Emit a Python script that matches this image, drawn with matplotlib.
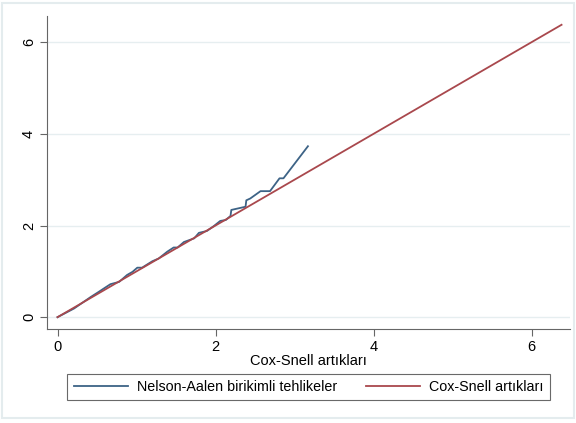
import numpy as np
import matplotlib.pyplot as plt
from matplotlib.patches import Rectangle

plt.rcParams['font.family'] = ['Liberation Sans', 'DejaVu Sans']

# Nelson-Aalen cumulative hazard vs Cox-Snell residuals
na_x = [0.00, 0.21, 0.42, 0.52, 0.59, 0.67, 0.78, 0.88, 0.95, 1.01, 1.07, 1.20,
        1.28, 1.39, 1.47, 1.52, 1.60, 1.73, 1.79, 1.89, 1.98, 2.06, 2.13, 2.19,
        2.20, 2.38, 2.39, 2.44, 2.57, 2.69, 2.81, 2.86, 3.17]
na_y = [0.00, 0.19, 0.44, 0.55, 0.63, 0.72, 0.77, 0.92, 0.99, 1.08, 1.08, 1.22,
        1.28, 1.43, 1.52, 1.52, 1.64, 1.72, 1.84, 1.88, 1.99, 2.10, 2.12, 2.21,
        2.34, 2.41, 2.55, 2.59, 2.75, 2.75, 3.03, 3.03, 3.73]
ref_x = [0.0, 6.38]
ref_y = [0.0, 6.38]

blue = '#3d6386'
red = '#a9484d'

fig = plt.figure(figsize=(5.76, 4.23), dpi=100)
fig.patches.append(Rectangle((0.004, 0.012), 0.992, 0.98, transform=fig.transFigure,
                             fill=False, edgecolor='#e4ecee', linewidth=1.5))

ax = fig.add_axes([0.082, 0.222, 0.908, 0.74])
ax.plot(na_x, na_y, color=blue, lw=1.3, label='Nelson-Aalen birikimli tehlikeler')
ax.plot(ref_x, ref_y, color=red, lw=1.3, label='Cox-Snell artıkları')

ax.set_xlim(-0.13, 6.49)
ax.set_ylim(-0.26, 6.57)
ax.set_xticks([0, 2, 4, 6])
ax.set_yticks([0, 2, 4, 6])
ax.set_yticklabels(['0', '2', '4', '6'], rotation=90, va='center')
ax.tick_params(labelsize=10.5, length=5, color='#666666', pad=3)
ax.yaxis.grid(True, color='#e6eef0', lw=1)
ax.set_axisbelow(True)
for s in ['top', 'right']:
    ax.spines[s].set_visible(False)
for s in ['left', 'bottom']:
    ax.spines[s].set_color('#666666')
ax.set_xlabel('Cox-Snell artıkları', fontsize=10.5, labelpad=0)

leg = fig.legend(loc='center', ncol=2, fontsize=10.3,
                 bbox_to_anchor=(0.5356, 0.085),
                 handlelength=3.8, handletextpad=0.63, columnspacing=2.0,
                 borderpad=0.45, borderaxespad=0,
                 frameon=True, fancybox=False)
leg.get_frame().set_edgecolor('#444444')
leg.get_frame().set_linewidth(0.8)

fig.savefig('out.png', dpi=100)
